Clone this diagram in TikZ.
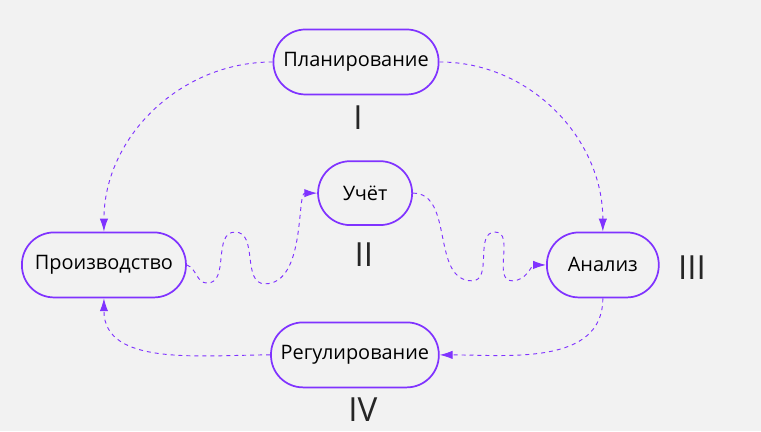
\documentclass[tikz,border=0pt]{standalone}
\usepackage{fontspec}
\setmainfont{Open Sans}
\usepackage{tikz}
\usetikzlibrary{arrows.meta,calc}
\usepackage{xcolor}
\definecolor{fon}{HTML}{F2F2F2}
\definecolor{lilac}{HTML}{8033FF}

\tikzset{
  stage/.style={draw=lilac,line width=1.3pt,rounded corners=0.85cm,fill=fon,
    minimum height=1.72cm,inner sep=2pt,font=\fontsize{15}{18}\selectfont},
  flow/.style={draw=lilac,line width=0.7pt,dash pattern=on 3pt off 3pt,
    -{Latex[length=3.4mm,width=2.2mm]}},
  num/.style={font=\fontsize{25}{30}\selectfont,text=black!85}
}

\begin{document}
\begin{tikzpicture}
  % фон
  \fill[fon] (0,0) rectangle (20.135,-11.404);
  \useasboundingbox (0,0) rectangle (20.135,-11.404);

  % этапы
  \node[stage,minimum width=4.37cm] (plan) at (9.42,-1.64) {Планирование};
  \node[stage,minimum width=2.49cm,minimum height=1.69cm] (uchet) at (9.66,-5.11) {Учёт};
  \node[stage,minimum width=4.34cm] (proizv) at (2.75,-7.01) {Производство};
  \node[stage,minimum width=2.96cm] (analiz) at (15.95,-7.01) {Анализ};
  \node[stage,minimum width=4.44cm] (regul) at (9.39,-9.39) {Регулирование};

  % номера
  \node[num] (n1) at (9.47,-3.10) {I};
  \node[num] (n2) at (9.63,-6.75) {II};
  \node[num] (n3) at (18.31,-7.09) {III};
  \node[num] (n4) at (9.60,-10.85) {IV};

  % точки волн
  \coordinate (a1) at (5.48,-7.49);
  \coordinate (a2) at (6.22,-6.14);
  \coordinate (a3) at (7.01,-7.51);
  \coordinate (b1) at (12.49,-7.43);
  \coordinate (b2) at (13.10,-6.14);
  \coordinate (b3) at (13.55,-7.43);

  % стрелки
  \draw[flow] (plan.west) to[out=180,in=90] (proizv.north);
  \draw[flow] (plan.east) to[out=0,in=90] (analiz.north);
  \draw[flow] (analiz.south) to[out=-90,in=0] (regul.east);
  \draw[flow] (regul.west) to[out=180,in=-90] (proizv.south);
  \draw[flow] (proizv.east) to[out=-20,in=180] (a1) to[out=0,in=180] (a2)
    to[out=0,in=180] (a3) to[out=0,in=180,in looseness=0.5] (uchet.west);
  \draw[flow] (uchet.east) to[out=0,in=180] (b1) to[out=0,in=180] (b2)
    to[out=0,in=180] (b3) to[out=0,in=180] (analiz.west);
\end{tikzpicture}
\end{document}
